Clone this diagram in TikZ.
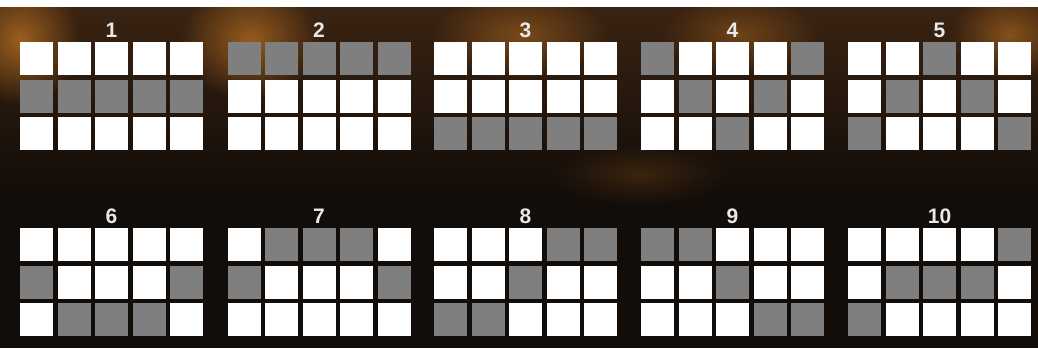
\documentclass[tikz,border=0pt]{standalone}
\usepackage{fontspec}
\setmainfont{Liberation Sans}
\usetikzlibrary{fadings}
\definecolor{bgdark}{HTML}{130D09}
\definecolor{bgbrown}{HTML}{3A2312}
\definecolor{bgorange}{HTML}{A8661F}
\definecolor{linegray}{HTML}{7F7F7F}
\definecolor{numwhite}{HTML}{E8E8E8}
\tikzfading[name=softglow, inner color=transparent!0, outer color=transparent!100]
\begin{document}
\begin{tikzpicture}[x=1pt,y=-1pt,
  cellbox/.style={minimum width=33pt, minimum height=33pt, inner sep=0pt, outer sep=0pt, anchor=north west, draw=none},
  numlabel/.style={text=numwhite, font=\bfseries\fontsize{21}{21}\selectfont, inner sep=0pt},
  glow/.style={fill=bgorange, path fading=softglow}]
  \useasboundingbox (0,0) rectangle (1038,348);
  \begin{scope}
  \clip (0,0) rectangle (1038,348);
  % background
  \fill[bgdark] (0,0) rectangle (1038,348);
  \shade[top color=bgbrown, bottom color=bgdark] (0,7) rectangle (1038,185);
  \fill[glow, opacity=0.9] (20,40) ellipse (60 and 65);
  \fill[glow, opacity=0.85] (250,40) ellipse (70 and 60);
  \fill[glow, opacity=0.6] (520,35) ellipse (90 and 45);
  \fill[glow, opacity=0.5] (740,35) ellipse (80 and 40);
  \fill[glow, opacity=0.7] (1010,35) ellipse (60 and 45);
  \fill[glow, opacity=0.25] (640,175) ellipse (90 and 30);
  \fill[white] (0,0) rectangle (1038,7);
  \end{scope}
  % paylines
  \foreach \g/\gx/\gy/\pat in {1/20/42/{1,1,1,1,1}, 2/227.5/42/{0,0,0,0,0}, 3/434/42/{2,2,2,2,2}, 4/641/42/{0,1,2,1,0}, 5/848/42/{2,1,0,1,2}, 6/20/228/{1,2,2,2,1}, 7/227.5/228/{1,0,0,0,1}, 8/434/228/{2,2,1,0,0}, 9/641/228/{0,0,1,2,2}, 10/848/228/{2,1,1,1,0}}{
    \node[numlabel] (lab\g) at (\gx+91.5,\gy-12) {\g};
    \foreach \r [count=\c from 0] in \pat {
      \foreach \k in {0,1,2} {
        \ifnum\k=\r \def\cellcol{linegray}\else\def\cellcol{white}\fi
        \node[cellbox, fill=\cellcol] (g\g-\k-\c) at (\gx+\c*37.5, \gy+\k*37.5) {};
      }
    }
  }
\end{tikzpicture}
\end{document}
